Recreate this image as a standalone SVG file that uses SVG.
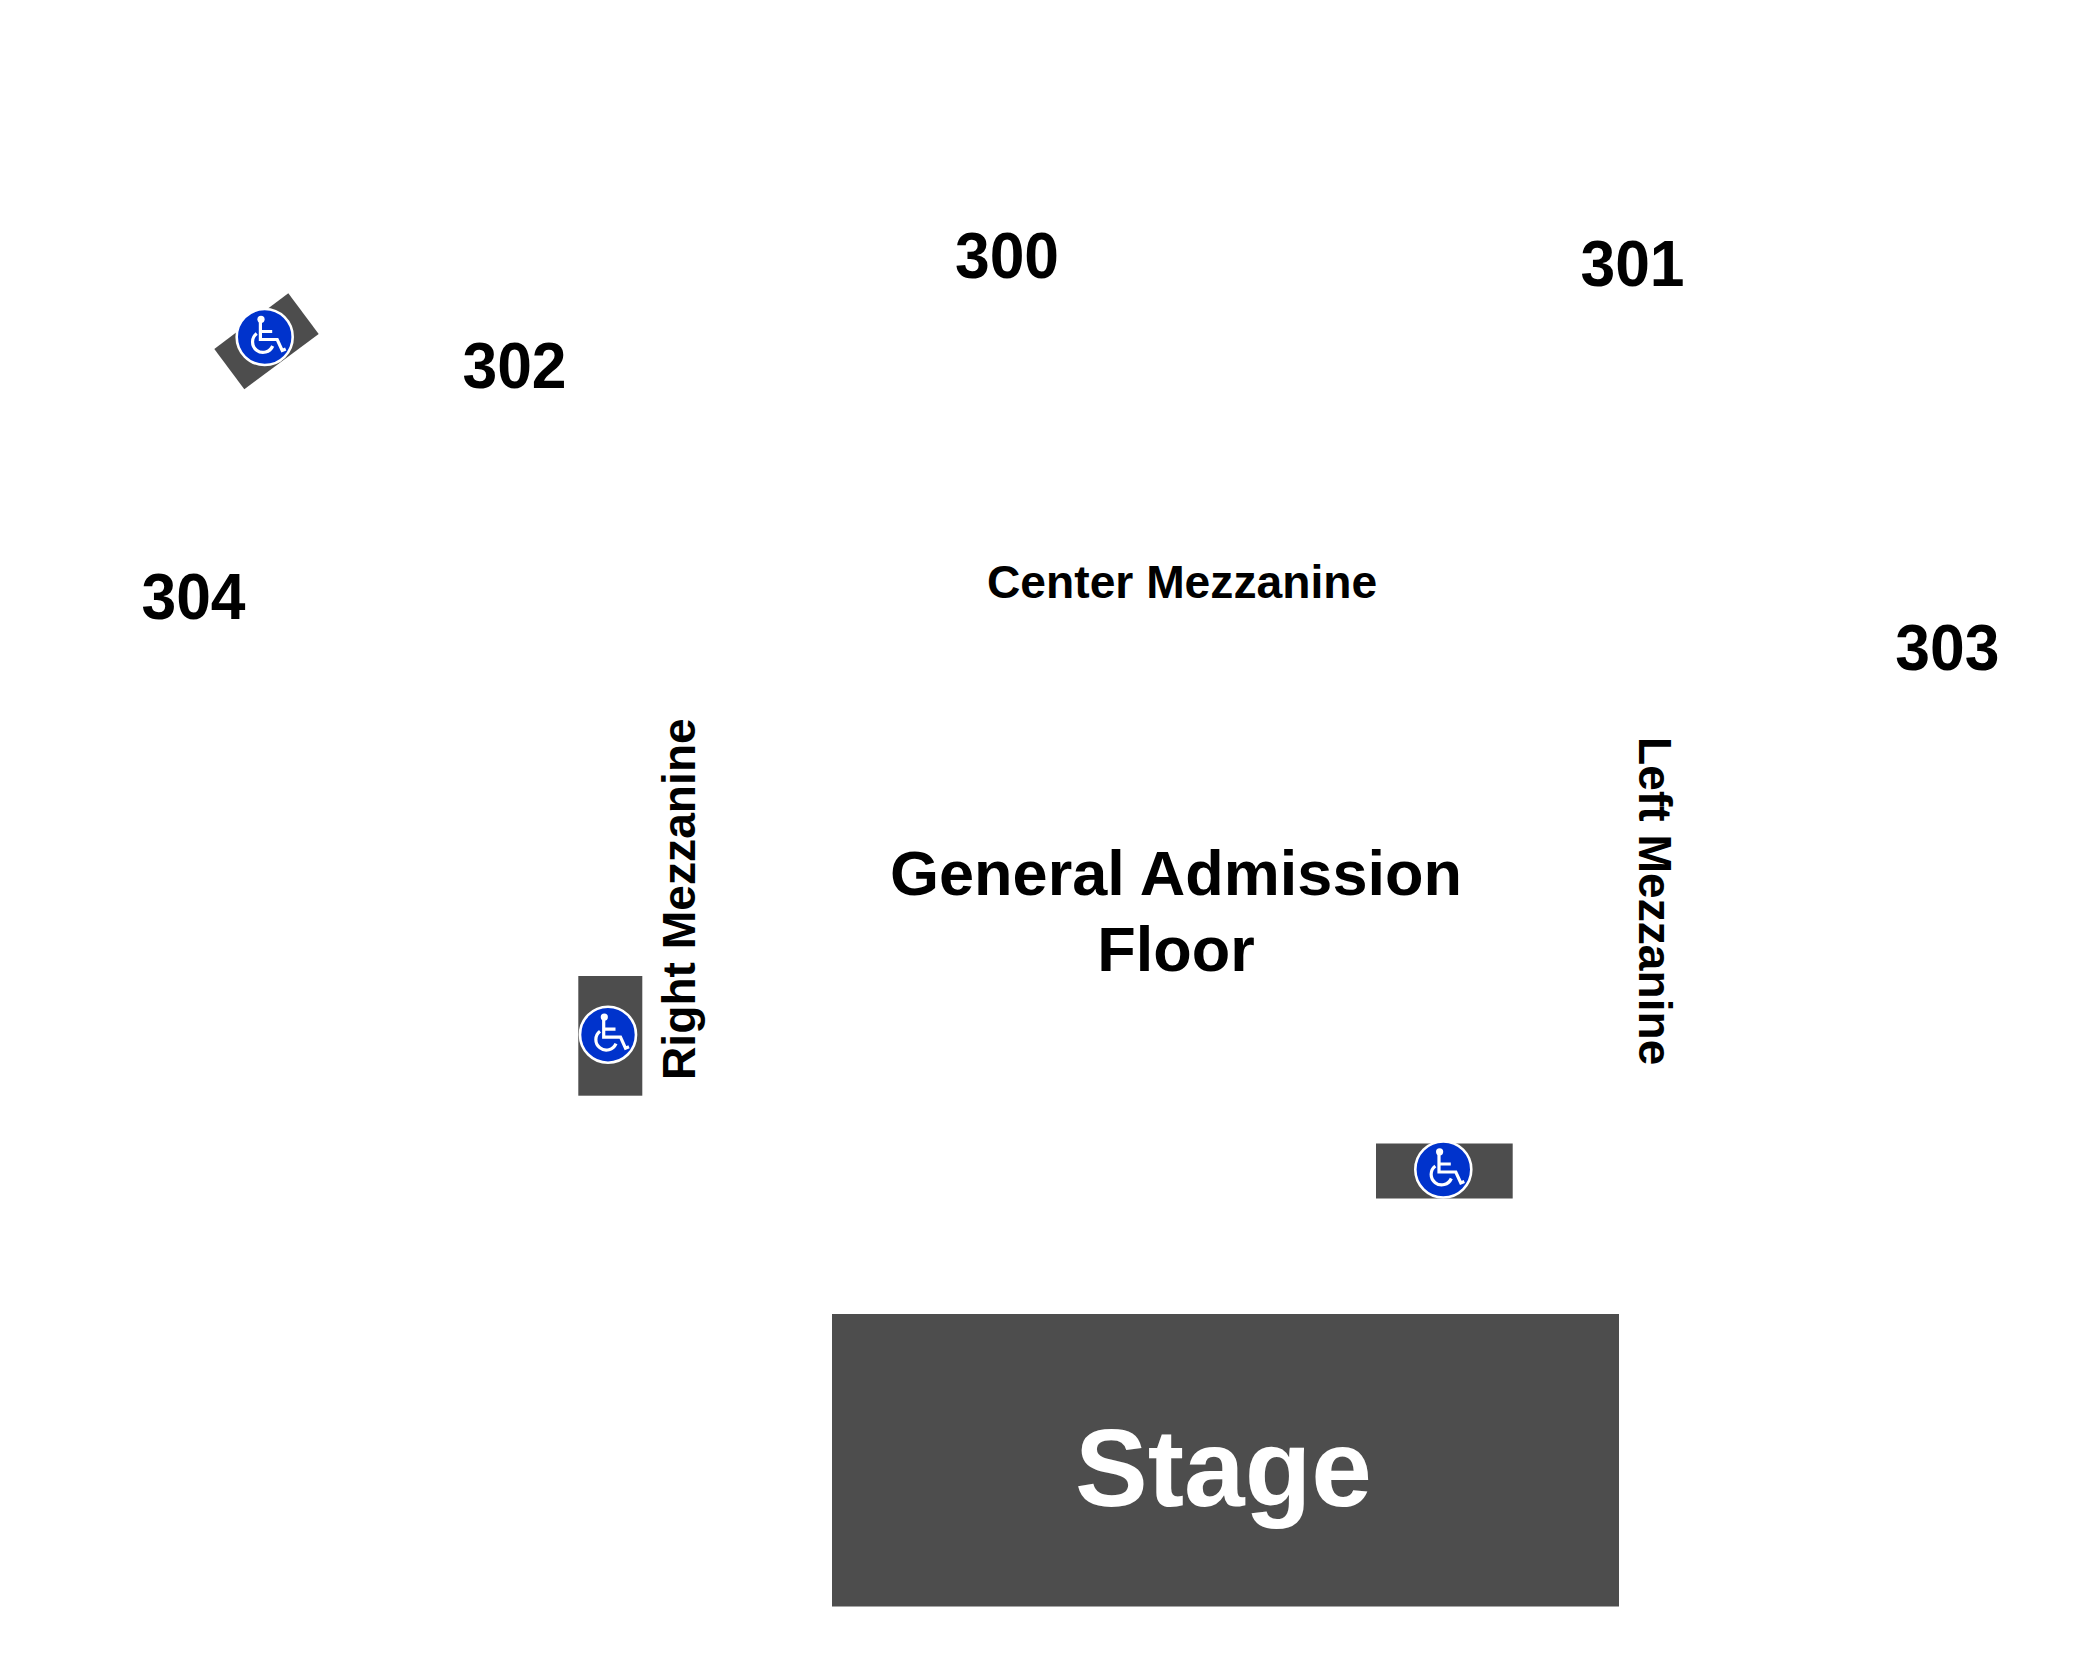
<svg xmlns="http://www.w3.org/2000/svg" width="2100" height="1668" viewBox="0 0 2100 1668">
<style>
text{font-family:"Liberation Sans",Arial,sans-serif;font-weight:700;fill:#000}
.num{font-size:65px;text-anchor:middle}
.mez{font-size:46.2px}
.ga{font-size:63px;text-anchor:middle}
.stage{font-size:109px;text-anchor:middle;fill:#fff}
.blk{fill:#4d4d4d}
.ring{fill:#0033cc;stroke:#fff;stroke-width:2.6}
.wc{fill:none;stroke:#fff;stroke-width:3.2}
</style>
<defs>
<g id="wheelchair">
<circle class="ring" r="28"/>
<circle cx="-3.7" cy="-17.7" r="3.6" fill="#fff"/>
<path class="wc" d="M-4.3-16V2.5H12.5L17.5 13.5 21 12M-4.3-5.5H7.5"/>
<path class="wc" d="M-8-3.5A10.5 10.5 0 1 0 8 9"/>
</g>
</defs>
<rect width="2100" height="1668" fill="#fff"/>
<g id="stage"><rect class="blk" x="832" y="1314" width="787" height="292.5"/><text class="stage" x="1223.5" y="1506">Stage</text></g>
<g id="access-302"><polygon class="blk" points="288.3,293.3 318.7,334 244.3,389.3 214.3,349"/><use href="#wheelchair" x="264.7" y="337"/></g>
<g id="access-right"><rect class="blk" x="578.3" y="976" width="64" height="119.7"/><use href="#wheelchair" x="608" y="1034.7"/></g>
<g id="access-left"><rect class="blk" x="1376" y="1143.5" width="136.7" height="55"/><use href="#wheelchair" x="1443.3" y="1169.5"/></g>
<g id="s300"><text class="num" transform="translate(1007 278) scale(.96 1)">300</text></g>
<g id="s301"><text class="num" transform="translate(1632.5 286) scale(.96 1)">301</text></g>
<g id="s302"><text class="num" transform="translate(514.5 388) scale(.96 1)">302</text></g>
<g id="s303"><text class="num" transform="translate(1947.3 670) scale(.96 1)">303</text></g>
<g id="s304"><text class="num" transform="translate(193.5 619) scale(.96 1)">304</text></g>
<g id="center-mezzanine"><text class="mez" x="987" y="597.5">Center Mezzanine</text></g>
<g id="right-mezzanine"><text class="mez" transform="translate(695 1080) rotate(-90)">Right Mezzanine</text></g>
<g id="left-mezzanine"><text class="mez" transform="translate(1638.7 737) rotate(90)">Left Mezzanine</text></g>
<g id="ga-floor"><text class="ga" x="1176" y="895">General Admission</text><text class="ga" x="1176" y="970.5">Floor</text></g>
</svg>
